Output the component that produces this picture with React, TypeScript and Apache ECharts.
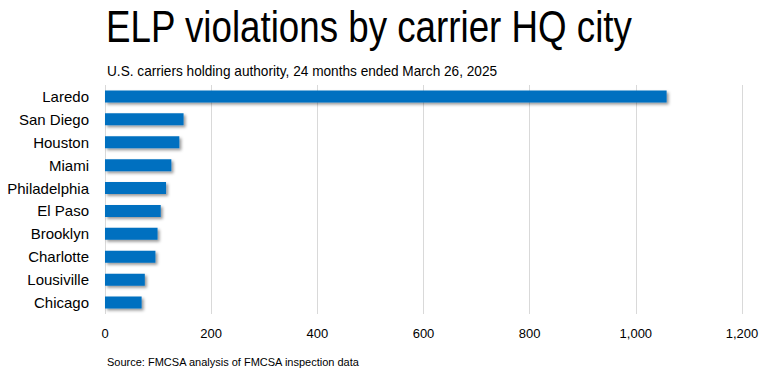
import React, { useEffect, useRef } from "react";
import * as echarts from "echarts";

const cities = ["Laredo", "San Diego", "Houston", "Miami", "Philadelphia", "El Paso", "Brooklyn", "Charlotte", "Lousiville", "Chicago"];
const violations = [1058, 148, 140, 125, 115, 105, 99, 95, 75, 69];
const titleText = "ELP violations by carrier HQ city";
const subtitleText = "U.S. carriers holding authority, 24 months ended March 26, 2025";
const sourceText = "Source: FMCSA analysis of FMCSA inspection data";

export default function App() {
  const ref = useRef<HTMLDivElement>(null);
  useEffect(() => {
    document.body.style.margin = "0";
    if (!ref.current) return;
    const chart = echarts.init(ref.current, null, { renderer: "svg" });
    chart.setOption({
      animation: false,
      backgroundColor: "#ffffff",
      graphic: [
        {
          type: "text",
          x: 106,
          y: 5,
          scaleX: 0.835,
          style: { text: titleText, fontFamily: "'Liberation Sans', sans-serif", fontSize: 44, fill: "#000000", verticalAlign: "top", align: "left" },
        },
        {
          type: "text",
          x: 107,
          y: 64,
          scaleX: 0.975,
          style: { text: subtitleText, fontFamily: "'Liberation Sans', sans-serif", fontSize: 14, fill: "#000000", verticalAlign: "top", align: "left" },
        },
        {
          type: "text",
          x: 107,
          y: 356,
          style: { text: sourceText, fontFamily: "'Liberation Sans', sans-serif", fontSize: 11, fill: "#000000", verticalAlign: "top", align: "left" },
        },
      ],
      grid: { left: 105, right: 26, top: 85, bottom: 60, containLabel: false },
      xAxis: {
        type: "value",
        min: 0,
        max: 1200,
        interval: 200,
        axisLine: { show: false },
        axisTick: { show: false },
        splitLine: { show: true, lineStyle: { color: "#D9D9D9", width: 1 } },
        axisLabel: {
          margin: 13,
          fontFamily: "'Liberation Sans', sans-serif",
          fontSize: 13,
          color: "#000000",
          formatter: (v: number) => v.toLocaleString("en-US"),
        },
      },
      yAxis: {
        type: "category",
        data: cities,
        inverse: true,
        axisLine: { show: false },
        axisTick: { show: false },
        axisLabel: {
          margin: 16,
          fontFamily: "'Liberation Sans', sans-serif",
          fontSize: 15,
          color: "#000000",
        },
      },
      series: [
        {
          type: "bar",
          data: violations,
          barWidth: 12,
          itemStyle: {
            color: "#0070C0",
            shadowBlur: 3,
            shadowOffsetX: 2,
            shadowOffsetY: 2,
            shadowColor: "rgba(0,0,0,0.4)",
          },
        },
      ],
    });
    return () => chart.dispose();
  }, []);
  return <div ref={ref} style={{ width: 768, height: 374 }} />;
}
